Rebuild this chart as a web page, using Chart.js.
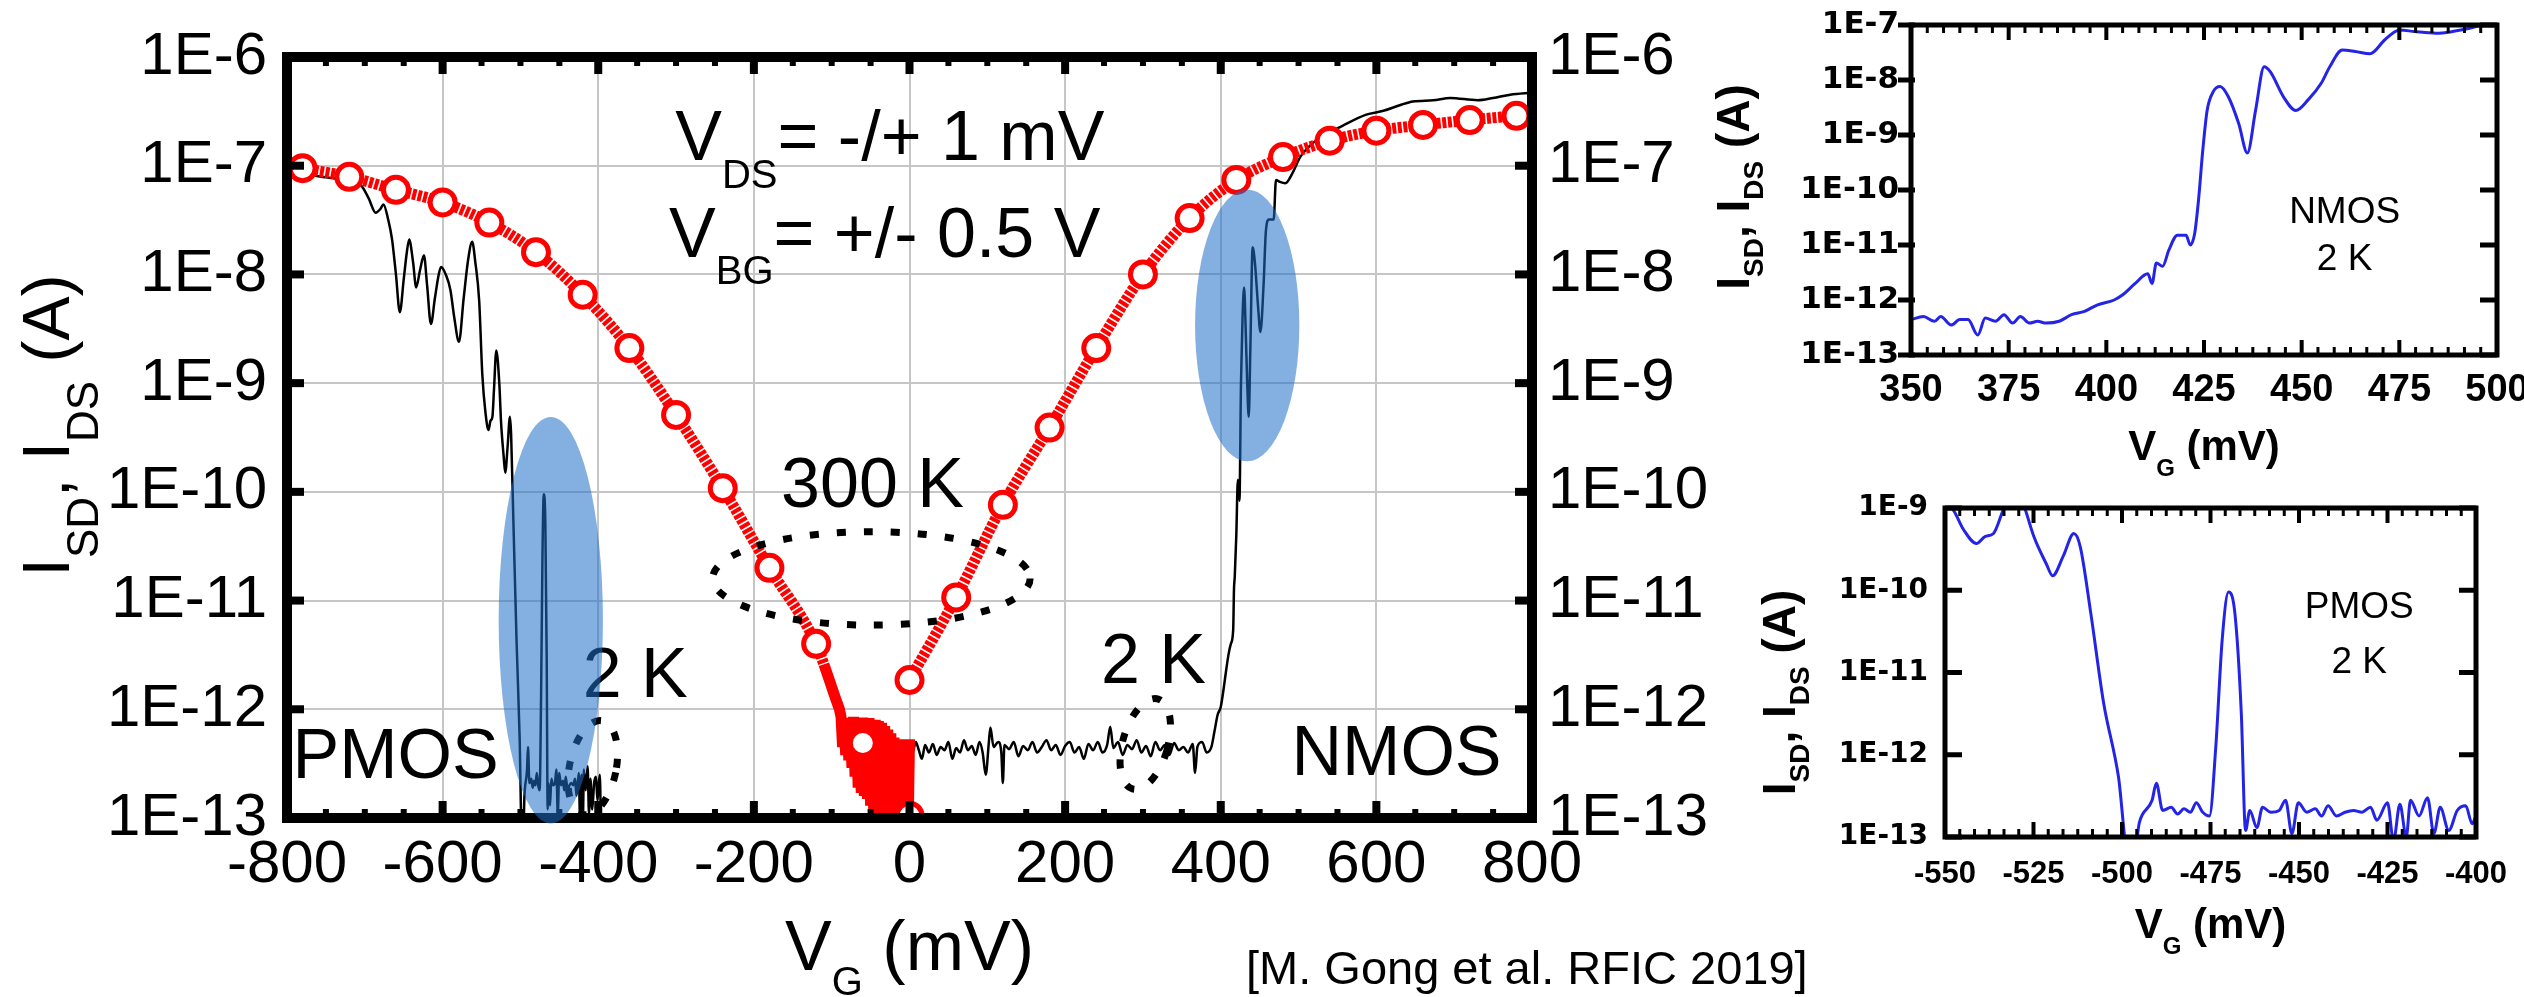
<!DOCTYPE html>
<html lang="en">
<head>
  <meta charset="UTF-8">
  <title>ISD, IDS vs VG at 300 K and 2 K</title>
  <script src="https://cdn.jsdelivr.net/npm/chart.js"></script>
  <style>
    html, body { margin: 0; padding: 0; background: #fff; overflow: hidden; }
    #page { position: relative; width: 2524px; height: 997px; overflow: hidden; background: #fff; }
    canvas { position: absolute; }
  </style>
</head>
<body>
<div id="page">
  <canvas id="mainChart" width="1830" height="997" style="left:0;top:0"></canvas>
  <canvas id="nmosChart" width="860" height="480" style="left:1700px;top:0"></canvas>
  <canvas id="pmosChart" width="860" height="517" style="left:1700px;top:480px"></canvas>
</div>
<script>
// ---- main plot: axes ----
const xTicks = [-800, -600, -400, -200, 0, 200, 400, 600, 800];
const xTickLabels = ['-800', '-600', '-400', '-200', '0', '200', '400', '600', '800'];
const yTicks = [1e-13, 1e-12, 1e-11, 1e-10, 1e-9, 1e-8, 1e-7, 1e-6];
const yTickLabels = ['1E-13', '1E-12', '1E-11', '1E-10', '1E-9', '1E-8', '1E-7', '1E-6'];

// ---- 300 K, marked points (open circles) ----
const vgCircP = [-780, -720, -660, -600, -540, -480, -420, -360, -300, -240, -180, -120, -60, 0];
const isdCircP = [9.5e-8, 7.9e-8, 6.0e-8, 4.6e-8, 3.0e-8, 1.6e-8, 6.5e-9, 2.1e-9, 5.1e-10, 1.08e-10, 2.0e-11, 4.0e-12, 4.9e-13, 1.05e-13];
const vgCircN = [0, 60, 120, 180, 240, 300, 360, 420, 480, 540, 600, 660, 720, 780];
const idsCircN = [1.86e-12, 1.07e-11, 7.6e-11, 3.9e-10, 2.1e-9, 1.0e-8, 3.3e-8, 7.4e-8, 1.2e-7, 1.7e-7, 2.1e-7, 2.37e-7, 2.63e-7, 2.88e-7];

// ---- 300 K, full sweep (thick red) ----
const vgRedP = [-800, -780, -720, -660, -600, -540, -480, -420, -360, -300, -240, -180, -120, -110];
const isdRedP = [1.02e-7, 9.5e-8, 7.9e-8, 6.0e-8, 4.6e-8, 3.0e-8, 1.6e-8, 6.5e-9, 2.1e-9, 5.1e-10, 1.08e-10, 2.0e-11, 4.0e-12, 2.6e-12];
const vgRedPNoise = [-110, -100, -94, -90, -88, -86, -84, -82, -80, -78, -76, -74, -72, -70, -68, -66, -64, -62, -60, -58, -56, -54, -52, -50, -48, -46, -44, -42, -40, -38, -36, -34, -32, -30, -28, -26, -24, -22, -20, -18, -16, -14, -12, -10, -8, -6, -4, -2, 0];
const isdRedPNoise = [2.6e-12, 1.6e-12, 1.2e-12, 1.0e-12, 8.5e-13, 4.5e-13, 8.3e-13, 3.8e-13, 8.3e-13, 3.4e-13, 8.3e-13, 2.9e-13, 8.5e-13, 2.4e-13, 8.3e-13, 1.9e-13, 8.3e-13, 1.7e-13, 8.4e-13, 1.6e-13, 8.2e-13, 1.5e-13, 8.3e-13, 1.3e-13, 8.0e-13, 1.1e-13, 8.0e-13, 9e-14, 7.8e-13, 6e-14, 7.5e-13, 6e-14, 7.0e-13, 6e-14, 6.5e-13, 6e-14, 6.0e-13, 6e-14, 5.5e-13, 6e-14, 5.3e-13, 6e-14, 5.3e-13, 6e-14, 5.3e-13, 6e-14, 5.3e-13, 6e-14, 5.3e-13];
const vgRedN = [0, 60, 120, 180, 240, 300, 360, 420, 480, 540, 600, 660, 720, 780, 800];
const idsRedN = [1.86e-12, 1.07e-11, 7.6e-11, 3.9e-10, 2.1e-9, 1.0e-8, 3.3e-8, 7.4e-8, 1.2e-7, 1.7e-7, 2.1e-7, 2.37e-7, 2.63e-7, 2.88e-7, 2.95e-7];

// ---- 2 K sweep (thin black), PMOS side and NMOS side ----
const vg2KP = [-800, -760, -720, -704, -695, -686, -680, -676, -670, -665, -660, -655, -650, -646, -643, -638, -634, -629, -624, -620, -615, -610, -605, -602, -596, -590, -585, -579, -573, -567, -562, -558, -553, -549, -545, -541, -538.5, -536, -534, -531, -527, -525, -521.5, -519.5, -516.5, -513.5, -512, -509, -505, -501, -498.5, -496, -495, -491.5, -490.3, -488.5, -486, -484.3, -482.5, -480.7, -479, -477.2, -475.3, -473.5, -471.7, -470, -468, -466.3, -465, -464, -462, -460.3, -458, -455.6, -453.8, -452, -450.2, -447.8, -445.4, -443.6, -441.8, -439.4, -437, -434.6, -432.2, -429.8, -428, -425, -423.3, -421.5, -419.7, -418.5, -416.1, -413.7, -411.9, -410.1, -407.7, -405.3, -402.9, -401.1, -400, -398, -396, -392];
const isd2KP = [9.0e-8, 8.0e-8, 7.2e-8, 6.5e-8, 5.0e-8, 3.7e-8, 4.0e-8, 4.4e-8, 3.2e-8, 2.1e-8, 1.0e-8, 4.5e-9, 9e-9, 1.6e-8, 2.1e-8, 1.3e-8, 7.6e-9, 1.1e-8, 1.5e-8, 8e-9, 3.5e-9, 6e-9, 1.0e-8, 1.17e-8, 1.0e-8, 7.2e-9, 4e-9, 2.4e-9, 6e-9, 1.4e-8, 2.0e-8, 1.3e-8, 5.7e-9, 1.2e-9, 5.4e-10, 3.7e-10, 4.5e-10, 4.9e-10, 8.7e-10, 2.0e-9, 9.5e-10, 4.5e-10, 2.1e-10, 1.5e-10, 2.6e-10, 4.9e-10, 3.4e-10, 5.2e-11, 4.3e-12, 5.4e-13, 8e-14, 8e-14, 1.5e-13, 2.8e-13, 4.5e-13, 2.1e-13, 2.3e-13, 1.9e-13, 2.2e-13, 2.0e-13, 2.6e-13, 2.0e-13, 1.8e-13, 1.26e-12, 2.5e-11, 9.5e-11, 5.2e-11, 3.2e-12, 1.2e-13, 2.1e-13, 1.3e-13, 2.3e-13, 2.0e-13, 2.1e-13, 2.8e-13, 1.1e-13, 2.6e-13, 2.0e-13, 2.2e-13, 1.8e-13, 2.4e-13, 1.8e-13, 2.0e-13, 2.1e-13, 2.0e-13, 2.3e-13, 1.6e-13, 2.6e-13, 9e-14, 2.5e-13, 1.0e-13, 2.8e-13, 1.8e-13, 3.0e-13, 1.1e-13, 2.3e-13, 1.2e-13, 2.1e-13, 2.4e-13, 1.45e-13, 1.8e-13, 2.5e-13, 6e-14, 5e-14];
const vg2KN = [0, 4, 8, 12, 16, 20, 25, 30, 35, 40, 45, 50, 55, 60, 65, 70, 75, 80, 85, 90, 94, 98, 102, 104, 108, 114, 118, 120, 122, 128, 134, 140, 146, 152, 158, 164, 170, 176, 182, 188, 194, 200, 206, 212, 218, 224, 230, 236, 242, 248, 254, 258, 262, 268, 274, 280, 286, 292, 298, 304, 310, 316, 322, 328, 334, 340, 346, 352, 358, 364, 367, 370, 376, 382, 388, 392, 396, 400, 404, 407, 410, 413, 416, 417, 418, 420, 422, 424, 426, 428, 430, 432, 434, 436, 438, 441, 444, 448, 451, 455, 458, 462, 468, 471, 476, 483, 492, 502, 524, 557, 587, 609, 630, 647, 673, 695, 730, 750, 772, 800];
const ids2KN = [4.5e-13, 4.0e-13, 5.0e-13, 4.2e-13, 3.5e-13, 4.7e-13, 4.0e-13, 4.8e-13, 3.8e-13, 4.5e-13, 4.2e-13, 5.0e-13, 3.5e-13, 4.4e-13, 4.0e-13, 5.2e-13, 4.2e-13, 4.6e-13, 3.8e-13, 5.0e-13, 4.0e-13, 2.5e-13, 5.0e-13, 6.8e-13, 4.5e-13, 5.0e-13, 4.0e-13, 2.1e-13, 4.7e-13, 4.3e-13, 5.0e-13, 3.7e-13, 4.6e-13, 4.2e-13, 5.0e-13, 4.0e-13, 4.5e-13, 5.2e-13, 4.2e-13, 4.7e-13, 3.8e-13, 4.6e-13, 5.0e-13, 4.0e-13, 4.5e-13, 3.5e-13, 4.8e-13, 4.2e-13, 5.0e-13, 4.0e-13, 4.7e-13, 6.9e-13, 4.4e-13, 5.0e-13, 3.8e-13, 4.7e-13, 4.3e-13, 5.2e-13, 4.0e-13, 4.6e-13, 3.7e-13, 5.0e-13, 4.2e-13, 4.7e-13, 3.8e-13, 4.9e-13, 4.2e-13, 4.5e-13, 4.0e-13, 4.8e-13, 2.6e-13, 4.5e-13, 5.0e-13, 4.0e-13, 4.5e-13, 6.3e-13, 8.9e-13, 1.05e-12, 1.6e-12, 2.3e-12, 3.2e-12, 4.0e-12, 5.4e-12, 1.26e-11, 1.66e-11, 4.0e-11, 1.29e-10, 8.3e-11, 1.0e-9, 4.0e-9, 7.6e-9, 3.2e-9, 1.0e-9, 4.9e-10, 2.0e-9, 1.78e-8, 1.26e-8, 5.0e-9, 2.95e-9, 7.9e-9, 2.5e-8, 3.2e-8, 3.2e-8, 7.4e-8, 7.1e-8, 6.9e-8, 8.5e-8, 1.2e-7, 1.74e-7, 2.34e-7, 2.95e-7, 3.2e-7, 3.6e-7, 3.9e-7, 4.0e-7, 4.2e-7, 4.0e-7, 4.2e-7, 4.5e-7, 4.7e-7];

// ---- inset NMOS 2 K ----
const nmosXTicks = [350, 375, 400, 425, 450, 475, 500];
const nmosXLabels = ['350', '375', '400', '425', '450', '475', '500'];
const nmosYTicks = [1e-13, 1e-12, 1e-11, 1e-10, 1e-9, 1e-8, 1e-7];
const nmosYLabels = ['1E-13', '1E-12', '1E-11', '1E-10', '1E-9', '1E-8', '1E-7'];
const vgInsetN = [350, 353.2, 356, 357.6, 360.3, 362.5, 364.6, 367.1, 369, 371.6, 373.8, 376, 378, 380.3, 382.4, 384.6, 387.9, 391.1, 394.4, 397.6, 402, 404.1, 407.4, 410.6, 411.7, 412.8, 414.4, 416, 418.2, 420.4, 421.5, 422.6, 423.6, 424.7, 425.8, 427.4, 429.1, 431.2, 433.9, 436.1, 438.2, 440.4, 442, 445.3, 448.5, 451.7, 455, 457.2, 460.4, 463.7, 467.5, 471.3, 475.1, 478.9, 484.3, 488.6, 493, 496.2, 500];
const idsInsetN = [4.4e-13, 5.0e-13, 4.1e-13, 5.0e-13, 3.5e-13, 4.4e-13, 4.4e-13, 2.3e-13, 4.7e-13, 4.1e-13, 5.4e-13, 3.8e-13, 5.0e-13, 3.8e-13, 4.1e-13, 3.8e-13, 4.1e-13, 5.4e-13, 6.2e-13, 8.1e-13, 1.0e-12, 1.23e-12, 2.0e-12, 3.0e-12, 2.0e-12, 4.7e-12, 4.1e-12, 8.1e-12, 1.5e-11, 1.5e-11, 1.0e-11, 1.6e-11, 6.6e-11, 5.4e-10, 2.8e-9, 6.2e-9, 7.6e-9, 5.0e-9, 1.6e-9, 4.7e-10, 2.8e-9, 1.74e-8, 1.4e-8, 5.0e-9, 2.8e-9, 4.4e-9, 8.7e-9, 1.74e-8, 3.5e-8, 3.3e-8, 3.0e-8, 5.4e-8, 8.1e-8, 7.6e-8, 7.1e-8, 7.6e-8, 8.7e-8, 1.0e-7, 1.12e-7];

// ---- inset PMOS 2 K ----
const pmosXTicks = [-550, -525, -500, -475, -450, -425, -400];
const pmosXLabels = ['-550', '-525', '-500', '-475', '-450', '-425', '-400'];
const pmosYTicks = [1e-13, 1e-12, 1e-11, 1e-10, 1e-9];
const pmosYLabels = ['1E-13', '1E-12', '1E-11', '1E-10', '1E-9'];
const vgInsetP = [-550, -547.7, -544.7, -541.1, -538.7, -536.3, -533.9, -532.5, -530, -527.3, -524.9, -521.4, -519.6, -516.6, -513.6, -511.8, -508.8, -505.2, -501, -498.6, -496.2, -495.1, -491.5, -490.3, -488.5, -486.1, -484.3, -482.5, -480.7, -479, -477.2, -475.3, -473.5, -471.7, -469.9, -468.1, -466.3, -465.1, -463.9, -461.9, -460.3, -458, -455.6, -453.8, -452, -450.2, -447.8, -445.4, -443.6, -441.8, -439.4, -437, -434.6, -432.2, -429.8, -428, -425, -423.3, -421.5, -419.7, -418.5, -416.1, -413.7, -411.9, -410.1, -407.7, -405.3, -402.9, -401.1, -400];
const isdInsetP = [1.12e-9, 9.5e-10, 5.4e-10, 3.7e-10, 4.5e-10, 4.9e-10, 8.7e-10, 1.3e-9, 2.0e-9, 9.5e-10, 4.5e-10, 2.1e-10, 1.5e-10, 2.6e-10, 4.9e-10, 3.4e-10, 5.2e-11, 4.3e-12, 5.4e-13, 8e-14, 8e-14, 1.5e-13, 2.8e-13, 4.5e-13, 2.1e-13, 2.3e-13, 1.9e-13, 2.2e-13, 2.0e-13, 2.6e-13, 2.0e-13, 1.8e-13, 1.26e-12, 2.5e-11, 9.5e-11, 5.2e-11, 3.2e-12, 1.2e-13, 2.1e-13, 1.3e-13, 2.3e-13, 2.0e-13, 2.1e-13, 2.8e-13, 1.1e-13, 2.6e-13, 2.0e-13, 2.2e-13, 1.8e-13, 2.4e-13, 1.8e-13, 2.0e-13, 2.1e-13, 2.0e-13, 2.3e-13, 1.6e-13, 2.6e-13, 9e-14, 2.5e-13, 1.0e-13, 2.8e-13, 1.8e-13, 3.0e-13, 1.1e-13, 2.3e-13, 1.2e-13, 2.1e-13, 2.4e-13, 1.45e-13, 1.8e-13];

// ---- drawing helpers ----
const SANS = '"Liberation Sans", Arial, Helvetica, sans-serif';
Chart.defaults.color = '#000';
Chart.defaults.font.family = SANS;

const pts = (xs, ys) => xs.map((x, i) => ({ x: x, y: ys[i] }));

function richWidth(ctx, parts, weight) {
  let w = 0;
  for (const p of parts) { ctx.font = weight + ' ' + p[1] + 'px ' + SANS; w += ctx.measureText(p[0]).width; }
  return w;
}
// parts: [text, size, dy]
function drawRich(ctx, parts, x, y, weight, center) {
  let cx = center ? x - richWidth(ctx, parts, weight) / 2 : x;
  ctx.textAlign = 'left';
  ctx.textBaseline = 'alphabetic';
  ctx.fillStyle = '#000';
  for (const p of parts) {
    ctx.font = weight + ' ' + p[1] + 'px ' + SANS;
    ctx.fillText(p[0], cx, y + (p[2] || 0));
    cx += ctx.measureText(p[0]).width;
  }
}
function drawRotated(ctx, parts, bx, cy, weight) {
  ctx.save();
  ctx.translate(bx, cy);
  ctx.rotate(-Math.PI / 2);
  drawRich(ctx, parts, 0, 0, weight, true);
  ctx.restore();
}
// box with inward tick marks
function drawFrame(chart, f) {
  const { ctx, chartArea: a, scales: { x, y } } = chart;
  ctx.save();
  ctx.fillStyle = '#000';
  for (const t of f.xt) {
    const p = x.getPixelForValue(t[0]);
    ctx.fillRect(p - t[2] / 2, a.bottom - t[1], t[2], t[1]);
    ctx.fillRect(p - t[2] / 2, a.top, t[2], t[1]);
  }
  for (const v of f.yv) {
    const p = y.getPixelForValue(v);
    ctx.fillRect(a.left - f.yOut, p - f.yW / 2, f.yLen, f.yW);
    ctx.fillRect(a.right - f.yLen, p - f.yW / 2, f.yLen, f.yW);
  }
  ctx.lineWidth = f.border;
  ctx.strokeStyle = '#000';
  ctx.strokeRect(a.left, a.top, a.right - a.left, a.bottom - a.top);
  ctx.restore();
}

// ---- main plot annotations (positions in data units) ----
const mainLabels = [
  { parts: [['V', 70], ['DS', 40, 28], ['= -/+ 1 mV', 70]], v: -301, i: 1.13e-7 },
  { parts: [['V', 70], ['BG', 40, 27], ['= +/- 0.5 V', 70]], v: -309, i: 1.45e-8 },
  { parts: [['300 K', 70]], v: -165, i: 7.26e-11 },
  { parts: [['2 K', 70]], v: -420, i: 1.30e-12 },
  { parts: [['PMOS', 70]], v: -793, i: 2.33e-13 },
  { parts: [['2 K', 70]], v: 246, i: 1.75e-12 },
  { parts: [['NMOS', 70]], v: 491, i: 2.48e-13 }
];
const dottedRings = [
  { v: -49, i: 1.6e-11, rv: 204, rd: 0.43, rot: 0 },
  { v: -407, i: 2.9e-13, rv: 30, rd: 0.44, rot: 0.2 },
  { v: 303, i: 4.8e-13, rv: 29, rd: 0.43, rot: 0.28 }
];
const blueSpots = [
  { v: -461, i: 6.6e-12, rv: 67, rd: 1.87 },
  { v: 434, i: 3.4e-9, rv: 67, rd: 1.25 }
];

function ellipsePath(ctx, x, y, e) {
  const cx = x.getPixelForValue(e.v), cy = y.getPixelForValue(e.i);
  const rx = x.getPixelForValue(e.v + e.rv) - cx;
  const ry = y.getPixelForValue(e.i / Math.pow(10, e.rd)) - cy;
  ctx.beginPath();
  ctx.ellipse(cx, cy, rx, ry, e.rot || 0, 0, Math.PI * 2);
}

const mainDecor = {
  id: 'mainDecor',
  afterDatasetsDraw(chart) {
    const { ctx, chartArea: a, scales: { x, y } } = chart;
    // dotted rings
    ctx.save();
    ctx.strokeStyle = '#000';
    ctx.lineWidth = 7;
    ctx.setLineDash([9, 18]);
    for (const e of dottedRings) { ellipsePath(ctx, x, y, e); ctx.stroke(); }
    ctx.restore();

    const xt = [];
    for (let v = -800; v <= 800; v += 50) xt.push(v % 200 === 0 ? [v, 17, 8] : [v, 9, 6]);
    drawFrame(chart, { xt: xt, yv: yTicks, yLen: 17, yW: 8, yOut: 0, border: 10 });

    // text
    for (const t of mainLabels) drawRich(ctx, t.parts, x.getPixelForValue(t.v), y.getPixelForValue(t.i), 'normal', false);
    drawRich(ctx, [['V', 70], ['G', 40, 25], [' (mV)', 70]], (a.left + a.right) / 2, a.bottom + 152, 'normal', true);
    drawRotated(ctx, [['I', 66], ['SD', 44, 29], [', I', 66], ['DS', 44, 29], [' (A)', 66]], a.left - 218, (a.top + a.bottom) / 2 - 12, 'normal');
    drawRich(ctx, [['[M. Gong et al. RFIC 2019]', 47]], 1246, 984, 'normal', false);

    // highlighted regions
    ctx.save();
    ctx.fillStyle = 'rgba(30, 110, 200, 0.55)';
    for (const e of blueSpots) { ellipsePath(ctx, x, y, e); ctx.fill(); }
    ctx.restore();
  }
};

new Chart(document.getElementById('mainChart'), {
  type: 'line',
  data: {
    datasets: [
      { label: '300 K PMOS', data: pts(vgCircP, isdCircP), showLine: false, pointRadius: 12.5, pointBorderWidth: 5,
        pointBorderColor: '#ff0000', pointBackgroundColor: '#ffffff', clip: 0 },
      { label: '300 K NMOS', data: pts(vgCircN, idsCircN), showLine: false, pointRadius: 12.5, pointBorderWidth: 5,
        pointBorderColor: '#ff0000', pointBackgroundColor: '#ffffff', clip: 0 },
      { data: pts(vgRedP, isdRedP), borderColor: '#ff0000', borderWidth: 11, borderDash: [4, 1.6], pointRadius: 0,
        cubicInterpolationMode: 'monotone', clip: 0 },
      { data: pts(vgRedPNoise, isdRedPNoise), borderColor: '#ff0000', borderWidth: 11, borderJoinStyle: 'bevel',
        borderCapStyle: 'butt', pointRadius: 0, clip: 0 },
      { data: pts(vgRedN, idsRedN), borderColor: '#ff0000', borderWidth: 11, borderDash: [4, 1.6], pointRadius: 0,
        cubicInterpolationMode: 'monotone', clip: 0 },
      { label: '2 K PMOS', data: pts(vg2KP, isd2KP), borderColor: '#000', borderWidth: 2.5, borderJoinStyle: 'round', pointRadius: 0,
        cubicInterpolationMode: 'monotone', clip: 0 },
      { label: '2 K NMOS', data: pts(vg2KN, ids2KN), borderColor: '#000', borderWidth: 2.5, borderJoinStyle: 'round', pointRadius: 0,
        cubicInterpolationMode: 'monotone', clip: 0 }
    ]
  },
  options: {
    responsive: false,
    animation: false,
    events: [],
    layout: { padding: { top: 57, left: 0, right: 0, bottom: 0 } },
    plugins: { legend: { display: false }, tooltip: { enabled: false } },
    scales: {
      x: {
        type: 'linear', min: -800, max: 800,
        afterBuildTicks: s => { s.ticks = xTicks.map(v => ({ value: v })); },
        ticks: { callback: (v, i) => xTickLabels[i], autoSkip: false, maxRotation: 0, padding: 11, font: { size: 60 } },
        grid: { color: '#c6c6c6', lineWidth: 2, drawTicks: false },
        border: { display: false },
        afterFit: s => { s.height = 997 - 818; s.paddingLeft = 0; s.paddingRight = 0; }
      },
      y: {
        type: 'logarithmic', position: 'left', min: 1e-13, max: 1e-6,
        afterBuildTicks: s => { s.ticks = yTicks.map(v => ({ value: v })); },
        ticks: { callback: (v, i) => yTickLabels[i], padding: 20, font: { size: 60 } },
        grid: { color: '#c6c6c6', lineWidth: 2, drawTicks: false },
        border: { display: false },
        afterFit: s => { s.width = 287; s.paddingTop = 0; s.paddingBottom = 0; }
      },
      y2: {
        type: 'logarithmic', position: 'right', min: 1e-13, max: 1e-6,
        afterBuildTicks: s => { s.ticks = yTicks.map(v => ({ value: v })); },
        ticks: { callback: (v, i) => yTickLabels[i], padding: 16, font: { size: 60 } },
        grid: { display: false, drawTicks: false },
        border: { display: false },
        afterFit: s => { s.width = 1830 - 1532; s.paddingTop = 0; s.paddingBottom = 0; }
      }
    }
  },
  plugins: [mainDecor]
});

// ---- insets ----
function insetChart(id, o) {
  return new Chart(document.getElementById(id), {
    type: 'line',
    data: {
      datasets: [{ data: pts(o.vg, o.cur), borderColor: '#2424e6', borderWidth: 3, pointRadius: 0,
        cubicInterpolationMode: 'monotone', borderJoinStyle: 'round', clip: 0 }]
    },
    options: {
      responsive: false,
      animation: false,
      events: [],
      layout: { padding: { top: o.top, right: o.right, left: 0, bottom: 0 } },
      plugins: { legend: { display: false }, tooltip: { enabled: false } },
      scales: {
        x: {
          type: 'linear', min: o.xTicks[0], max: o.xTicks[o.xTicks.length - 1],
          afterBuildTicks: s => { s.ticks = o.xTicks.map(v => ({ value: v })); },
          ticks: { callback: (v, i) => o.xLabels[i], autoSkip: false, maxRotation: 0, padding: o.xPad,
            font: { size: o.xFont, weight: 'bold' } },
          grid: { display: false, drawTicks: false },
          border: { display: false },
          afterFit: s => { s.height = o.xH; s.paddingLeft = 0; s.paddingRight = 0; }
        },
        y: {
          type: 'logarithmic', min: o.yTicks[0], max: o.yTicks[o.yTicks.length - 1],
          afterBuildTicks: s => { s.ticks = o.yTicks.map(v => ({ value: v })); },
          ticks: { callback: (v, i) => o.yLabels[i], padding: o.yPad,
            font: { family: '"DejaVu Sans", sans-serif', size: o.yFont, weight: 'bold' } },
          grid: { display: false, drawTicks: false },
          border: { display: false },
          afterFit: s => { s.width = o.yW; s.paddingTop = 0; s.paddingBottom = 0; }
        }
      }
    },
    plugins: [{
      id: 'insetDecor',
      afterDatasetsDraw(chart) {
        const { ctx, chartArea: a, scales: { x, y } } = chart;
        const xt = [];
        const x0 = o.xTicks[0], span = o.xTicks[o.xTicks.length - 1] - x0;
        for (let k = 0; k <= 36; k++) xt.push(k % 6 === 0 ? [x0 + span * k / 36, 15, 4] : [x0 + span * k / 36, 8, 3]);
        drawFrame(chart, { xt: xt, yv: o.yTicks, yLen: 17, yW: 5, yOut: o.yOut, border: 5 });
        drawRich(ctx, [['V', 42], ['G', 24, 16], [' (mV)', 42]], (a.left + a.right) / 2, a.bottom + o.xTitle, 'bold', true);
        drawRotated(ctx, [['I', 46], ['SD', 28, 14], [', I', 46], ['DS', 28, 14], [' (A)', 46]], a.left - o.yTitle, (a.top + a.bottom) / 2 + o.yTitleDy, 'bold');
        for (const t of o.notes) drawRich(ctx, [[t.t, 37]], x.getPixelForValue(t.v), y.getPixelForValue(t.i), 'normal', true);
      }
    }]
  });
}

insetChart('nmosChart', {
  vg: vgInsetN, cur: idsInsetN, xTicks: nmosXTicks, xLabels: nmosXLabels, yTicks: nmosYTicks, yLabels: nmosYLabels,
  top: 25, right: 63, xH: 125, yW: 211, xPad: 13, yPad: 12, xFont: 38, yFont: 31, yOut: 13,
  xTitle: 105, yTitle: 162, yTitleDy: -3,
  notes: [{ t: 'NMOS', v: 461, i: 2.5e-11 }, { t: '2 K', v: 461, i: 3.55e-12 }]
});
insetChart('pmosChart', {
  vg: vgInsetP, cur: isdInsetP, xTicks: pmosXTicks, xLabels: pmosXLabels, yTicks: pmosYTicks, yLabels: pmosYLabels,
  top: 28, right: 84, xH: 160, yW: 245, xPad: 19, yPad: 17, xFont: 31, yFont: 28, yOut: 0,
  xTitle: 101, yTitle: 150, yTitleDy: 20,
  notes: [{ t: 'PMOS', v: -433, i: 4.6e-11 }, { t: '2 K', v: -433, i: 1.0e-11 }]
});
</script>
</body>
</html>
